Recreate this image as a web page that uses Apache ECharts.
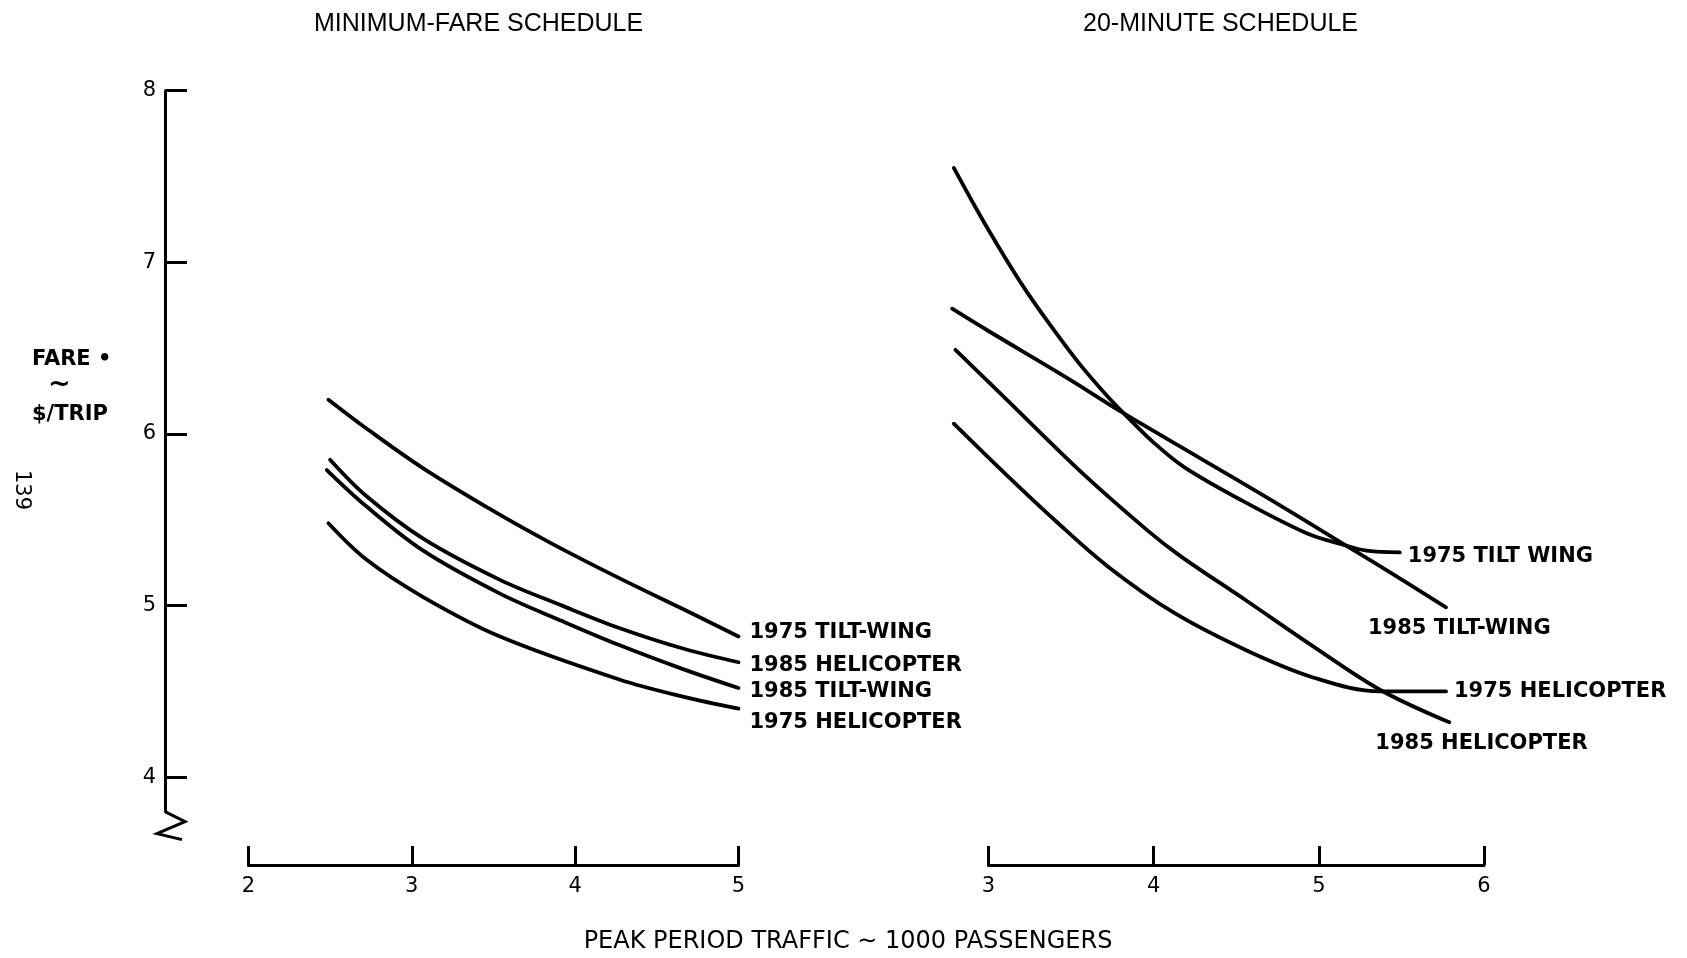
<!DOCTYPE html>
<html>
<head>
<meta charset="utf-8">
<script src="https://cdn.jsdelivr.net/npm/echarts@6/dist/echarts.min.js"></script>
<style>
  html, body { margin: 0; padding: 0; background: #fff; }
  #chart { width: 1687px; height: 958px; }
</style>
</head>
<body>
<div id="chart"></div>
<script>
// Fare ($/trip) against peak period traffic (thousands of passengers)

// Minimum-fare schedule
const minFareTiltWing1975   = [[2.49, 6.20], [2.74, 6.02], [3.07, 5.80], [3.52, 5.54], [3.86, 5.36], [4.27, 5.16], [4.66, 4.98], [5.00, 4.82]];
const minFareHelicopter1985 = [[2.50, 5.85], [2.72, 5.64], [3.07, 5.39], [3.54, 5.15], [3.92, 5.00], [4.27, 4.87], [4.66, 4.75], [5.00, 4.67]];
const minFareTiltWing1985   = [[2.48, 5.79], [2.72, 5.58], [3.07, 5.32], [3.54, 5.07], [3.92, 4.91], [4.27, 4.77], [4.66, 4.63], [5.00, 4.52]];
const minFareHelicopter1975 = [[2.49, 5.48], [2.72, 5.27], [3.07, 5.05], [3.54, 4.82], [4.27, 4.57], [4.66, 4.47], [5.00, 4.40]];

// 20-minute schedule
const twentyTiltWing1975   = [[2.79, 7.55], [2.91, 7.34], [3.03, 7.14], [3.21, 6.86], [3.37, 6.64], [3.55, 6.41], [3.72, 6.22], [3.84, 6.10], [4.00, 5.95], [4.18, 5.81], [4.52, 5.62], [4.93, 5.42], [5.13, 5.36], [5.29, 5.32], [5.49, 5.31]];
const twentyTiltWing1985   = [[2.78, 6.73], [3.00, 6.60], [3.47, 6.33], [3.82, 6.12], [4.28, 5.86], [4.72, 5.61], [5.13, 5.37], [5.37, 5.23], [5.77, 4.99]];
const twentyHelicopter1975 = [[2.79, 6.06], [3.11, 5.76], [3.41, 5.49], [3.72, 5.23], [4.12, 4.96], [4.56, 4.74], [4.97, 4.58], [5.37, 4.50], [5.77, 4.50]];
const twentyHelicopter1985 = [[2.80, 6.49], [3.11, 6.20], [3.57, 5.77], [3.96, 5.44], [4.16, 5.29], [4.56, 5.03], [4.97, 4.76], [5.37, 4.51], [5.79, 4.32]];

// Axis ticks and ranges
const fareTicks = [4, 5, 6, 7, 8];
const fareRange = [3.8, 8];
const minFareTrafficRange = [2, 5];
const twentyTrafficRange = [3, 6];
const twentyPlotRange = [2.7, 6];   // curves begin a little left of the first tick

// Texts
const panelTitles = ['MINIMUM-FARE SCHEDULE', '20-MINUTE SCHEDULE'];
const trafficAxisName = 'PEAK PERIOD TRAFFIC \u223C 1000 PASSENGERS';
const pageNumber = '139';

// Layout (pixels)
const GRID_TOP = 90.7;
const GRID_H = 720.9;
const LEFT_GRID = { left: 248.4, width: 490.1 };
const RIGHT_GRID = { left: 988.5, width: 495.5 };
const Y_AXIS_X = 165;
const X_AXIS_Y = 865;
const RIGHT_UNIT = RIGHT_GRID.width / (twentyTrafficRange[1] - twentyTrafficRange[0]);
const RIGHT_PLOT = {
  left: RIGHT_GRID.left - (twentyTrafficRange[0] - twentyPlotRange[0]) * RIGHT_UNIT,
  width: (twentyPlotRange[1] - twentyPlotRange[0]) * RIGHT_UNIT
};

const INK = '#000';
const LABEL_FONT = { fontFamily: 'DejaVu Sans', fontWeight: 'bold', fontSize: 21, color: INK };
const TICK_FONT = { fontFamily: 'DejaVu Sans', fontSize: 21, color: INK };

function curve(name, data, axisIdx, offset) {
  return {
    type: 'line',
    name: name,
    xAxisIndex: axisIdx,
    yAxisIndex: axisIdx,
    data: data,
    symbol: 'none',
    showSymbol: false,
    smooth: 0.35,
    clip: false,
    silent: true,
    lineStyle: { color: INK, width: 3.8, cap: 'round', join: 'round' },
    endLabel: Object.assign({
      show: true,
      formatter: name,
      distance: 0,
      offset: offset,
      align: 'left',
      verticalAlign: 'middle'
    }, LABEL_FONT)
  };
}

function shownXAxis(gridIdx, range) {
  return {
    type: 'value',
    gridIndex: gridIdx,
    min: range[0],
    max: range[1],
    interval: 1,
    position: 'bottom',
    offset: X_AXIS_Y - (GRID_TOP + GRID_H),
    axisLine: { show: true, lineStyle: { color: INK, width: 3 } },
    axisTick: { show: true, inside: true, length: 19, lineStyle: { color: INK, width: 3 } },
    axisLabel: Object.assign({ margin: 11 }, TICK_FONT),
    splitLine: { show: false }
  };
}

function hiddenFareAxis(gridIdx) {
  return { type: 'value', gridIndex: gridIdx, min: fareRange[0], max: fareRange[1], show: false, splitLine: { show: false } };
}

const chart = echarts.init(document.getElementById('chart'), null, { renderer: 'canvas' });

const yb = GRID_TOP + GRID_H;
const TITLE_STYLE = { fontFamily: 'Liberation Sans', fontWeight: 'normal', fontSize: 25, color: INK };

chart.setOption({
  animation: false,
  backgroundColor: '#fff',
  title: [
    { text: panelTitles[0], left: 309, top: 7, textStyle: TITLE_STYLE },
    { text: panelTitles[1], left: 1078, top: 7, textStyle: TITLE_STYLE }
  ],
  grid: [
    { left: LEFT_GRID.left, width: LEFT_GRID.width, top: GRID_TOP, height: GRID_H },
    { left: RIGHT_PLOT.left, width: RIGHT_PLOT.width, top: GRID_TOP, height: GRID_H },
    { left: RIGHT_GRID.left, width: RIGHT_GRID.width, top: GRID_TOP, height: GRID_H }
  ],
  xAxis: [
    shownXAxis(0, minFareTrafficRange),
    { type: 'value', gridIndex: 1, min: twentyPlotRange[0], max: twentyPlotRange[1], show: false, splitLine: { show: false } },
    shownXAxis(2, twentyTrafficRange)
  ],
  yAxis: [
    {
      type: 'value',
      gridIndex: 0,
      min: fareRange[0],
      max: fareRange[1],
      position: 'left',
      offset: LEFT_GRID.left - Y_AXIS_X,
      axisLine: { show: true, lineStyle: { color: INK, width: 3 } },
      axisTick: { show: true, inside: true, length: 22, customValues: fareTicks, lineStyle: { color: INK, width: 3 } },
      axisLabel: Object.assign({ margin: 9, customValues: fareTicks }, TICK_FONT),
      splitLine: { show: false }
    },
    hiddenFareAxis(1),
    hiddenFareAxis(2)
  ],
  series: [
    curve('1975 TILT-WING', minFareTiltWing1975, 0, [11, -4]),
    curve('1985 HELICOPTER', minFareHelicopter1985, 0, [11, 3]),
    curve('1985 TILT-WING', minFareTiltWing1985, 0, [11, 4]),
    curve('1975 HELICOPTER', minFareHelicopter1975, 0, [11, 14]),
    curve('1975 TILT WING', twentyTiltWing1975, 1, [8, 4]),
    curve('1985 TILT-WING', twentyTiltWing1985, 1, [-78, 21]),
    curve('1975 HELICOPTER', twentyHelicopter1975, 1, [8, 0]),
    curve('1985 HELICOPTER', twentyHelicopter1985, 1, [-74, 21])
  ],
  graphic: [
    // break mark at the foot of the fare axis
    {
      type: 'polyline',
      shape: { points: [[Y_AXIS_X, yb], [Y_AXIS_X + 20, yb + 10], [Y_AXIS_X - 8, yb + 22], [Y_AXIS_X + 17, yb + 28]] },
      style: { stroke: INK, lineWidth: 3, fill: null }
    },
    // fare axis name
    { type: 'text', left: 32, top: 349, style: Object.assign({ text: 'FARE \u2022' }, LABEL_FONT, { fill: INK }) },
    { type: 'text', left: 48, top: 371, style: Object.assign({ text: '~' }, LABEL_FONT, { fill: INK, fontSize: 27 }) },
    { type: 'text', left: 32, top: 404, style: Object.assign({ text: '$/TRIP' }, LABEL_FONT, { fill: INK }) },
    // traffic axis name
    {
      type: 'text', x: 848, y: 942, style: {
        text: trafficAxisName, textAlign: 'center', textVerticalAlign: 'middle',
        fontFamily: 'DejaVu Sans', fontSize: 24, fill: INK
      }
    },
    // page number
    {
      type: 'text', x: 21, y: 490, rotation: -Math.PI / 2, style: {
        text: pageNumber, textAlign: 'center', textVerticalAlign: 'middle',
        fontFamily: 'DejaVu Sans', fontSize: 21, fill: INK
      }
    }
  ]
});
</script>
</body>
</html>
